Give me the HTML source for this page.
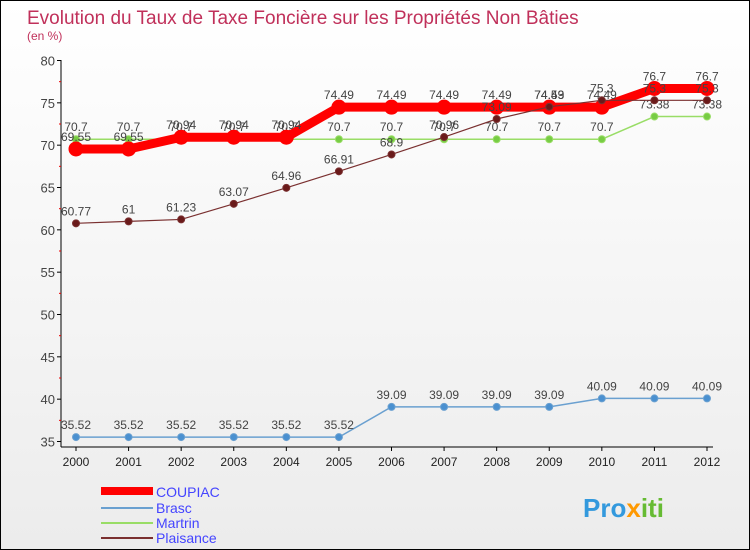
<!DOCTYPE html>
<html><head><meta charset="utf-8"><style>
body{margin:0}
#c{width:748px;height:548px;border:1px solid #000;background:linear-gradient(#fff,#ececec);position:relative;font-family:"Liberation Sans",sans-serif;overflow:hidden}
svg text{font-family:"Liberation Sans",sans-serif}
</style></head><body>
<div id="c">
<svg id="s" width="748" height="548">
<text x="26" y="23" font-size="19" fill="#c0305a">Evolution du Taux de Taxe Foncière sur les Propriétés Non Bâties</text>
<text x="26" y="39" font-size="12" fill="#c0305a">(en %)</text>
<g id="g"></g>
<g>
<rect x="100" y="486" width="52" height="8" fill="#f00"/>
<text x="155" y="496" font-size="14" fill="#4444ff">COUPIAC</text>
<line x1="100" y1="507" x2="152" y2="507" stroke="#6aa0d0" stroke-width="2"/>
<text x="155" y="512" font-size="14" fill="#4444ff">Brasc</text>
<line x1="100" y1="522" x2="152" y2="522" stroke="#99dd66" stroke-width="2"/>
<text x="155" y="527" font-size="14" fill="#4444ff">Martrin</text>
<line x1="100" y1="537" x2="152" y2="537" stroke="#7a3030" stroke-width="2"/>
<text x="155" y="542" font-size="14" fill="#4444ff">Plaisance</text>
</g>
<text x="582" y="516" font-size="26" font-weight="bold" fill="#3399dd">Pro<tspan fill="#ff9900">x</tspan><tspan fill="#66bb33">iti</tspan></text>
</svg></div>
<script>
const years=[2000,2001,2002,2003,2004,2005,2006,2007,2008,2009,2010,2011,2012];
const yTicks=[35,40,45,50,55,60,65,70,75,80];
const coupiac=[69.55,69.55,70.94,70.94,70.94,74.49,74.49,74.49,74.49,74.49,74.49,76.7,76.7];
const brasc=[35.52,35.52,35.52,35.52,35.52,35.52,39.09,39.09,39.09,39.09,40.09,40.09,40.09];
const martrin=[70.7,70.7,70.7,70.7,70.7,70.7,70.7,70.7,70.7,70.7,70.7,73.38,73.38];
const plaisance=[60.77,61,61.23,63.07,64.96,66.91,68.9,70.96,73.09,74.53,75.3,75.3,75.3];
const NS='http://www.w3.org/2000/svg',g=document.getElementById('g');
const X=i=>75+i*(631/12), Y=v=>59.5+(80-v)*381/45;
function el(t,a,p){const e=document.createElementNS(NS,t);for(const k in a)e.setAttribute(k,a[k]);(p||g).appendChild(e);return e;}
let ax=el('line',{x1:60,y1:59,x2:60,y2:446,stroke:'#000'});


let bx=el('line',{x1:60,y1:446,x2:712,y2:446,stroke:'#000'});


yTicks.forEach(v=>{el('line',{x1:56,y1:Y(v),x2:60,y2:Y(v),stroke:'#000'});
 let t=el('text',{x:54,y:Y(v)+5,'font-size':13,fill:'#444','text-anchor':'end'});t.textContent=v;
 
 
 if(v<80)el('line',{x1:58,y1:Y(v+2.5),x2:60,y2:Y(v+2.5),stroke:'#e00'});});
years.forEach((y,i)=>{el('line',{x1:X(i),y1:446,x2:X(i),y2:450,stroke:'#000'});
 let t=el('text',{x:X(i),y:465,'font-size':12,fill:'#222','text-anchor':'middle'});t.textContent=y;
 
 });
function series(d,name,c,w,r,fc){
 let l=el('polyline',{points:d.map((v,i)=>X(i)+','+Y(v)).join(' '),fill:'none',stroke:c,'stroke-width':w});
 
 
 d.forEach((v,i)=>{let p=el('circle',{cx:X(i),cy:Y(v),r:r,fill:fc,stroke:c});
  
  
  let t=el('text',{x:X(i),y:Y(v)-8,'font-size':12,fill:'#444','text-anchor':'middle'});t.textContent=v;
  
  });
}
series(brasc,'brasc','#6aa0d0',1.5,3.5,'#4a90d0');
series(martrin,'martrin','#99dd66',1.5,3.5,'#77cc44');
series(coupiac,'coupiac','#f00',9,7,'#f00');
series(plaisance,'plaisance','#7a3030',1.2,3.5,'#6a1a1a');
</script></body></html>
